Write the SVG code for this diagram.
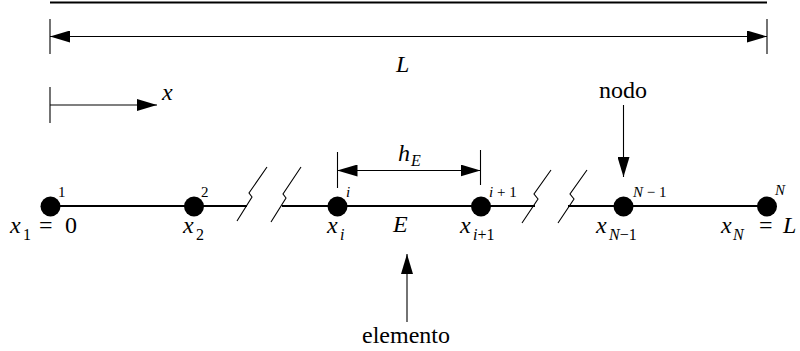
<svg xmlns="http://www.w3.org/2000/svg" width="800" height="351" viewBox="0 0 800 351">
<style>
.thin{stroke:#000;stroke-width:1.1;fill:none}
.thick{stroke:#000;stroke-width:2;fill:none}
.node{fill:#000}
</style>
<defs>
<marker id="ah" markerUnits="userSpaceOnUse" markerWidth="20" markerHeight="12" refX="20" refY="6" orient="auto-start-reverse" viewBox="0 0 20 12">
<path d="M0,0 L20,6 L0,12 z" fill="#000"/>
</marker>
</defs>
<g id="connectors">
<line class="thick" x1="50" y1="2.5" x2="767" y2="2.5"/>
<line class="thick" x1="50" y1="206" x2="247" y2="206"/>
<line class="thick" x1="282" y1="206" x2="535" y2="206"/>
<line class="thick" x1="568" y1="206" x2="767" y2="206"/>
<line class="thin" x1="50" y1="19" x2="50" y2="54"/>
<line class="thin" x1="767" y1="19" x2="767" y2="54"/>
<line class="thin" x1="50" y1="36.5" x2="767" y2="36.5" marker-start="url(#ah)" marker-end="url(#ah)"/>
<line class="thin" x1="50" y1="87" x2="50" y2="123"/>
<line class="thin" x1="50" y1="105" x2="157" y2="105" marker-end="url(#ah)"/>
<polyline class="thin" points="237,221 252,197 249,193 267,167"/>
<polyline class="thin" points="271,222 286,198 283,194 301,167"/>
<polyline class="thin" points="522,223 538,199 534,194 551,170"/>
<polyline class="thin" points="558,223 574,199 570,194 587,170"/>
<line class="thin" x1="337.5" y1="152" x2="337.5" y2="188"/>
<line class="thin" x1="480.5" y1="150" x2="480.5" y2="185"/>
<line class="thin" x1="337.5" y1="170.5" x2="480.5" y2="170.5" marker-start="url(#ah)" marker-end="url(#ah)"/>
<line class="thin" x1="623.5" y1="105" x2="623.5" y2="177" marker-end="url(#ah)"/>
<line class="thin" x1="407" y1="322" x2="407" y2="254" marker-end="url(#ah)"/>
</g>
<g id="labels">
<text font-family="Liberation Serif" font-size="24" font-style="italic" x="396" y="72">L</text>
<text font-family="Liberation Serif" font-size="24" font-style="italic" x="162" y="100">x</text>
<text font-family="Liberation Serif" font-size="24" font-style="italic" x="398" y="161">h<tspan font-size="16" x="411" y="166">E</tspan></text>
<text font-family="Liberation Serif" font-size="24" x="599" y="98">nodo</text>
<text font-family="Liberation Serif" font-size="24" x="362" y="343">elemento</text>
<text font-family="Liberation Serif" font-size="24" font-style="italic" x="393" y="232">E</text>
</g>
<g id="node1">
<circle class="node" cx="50.5" cy="206.5" r="10"/>
<text font-family="Liberation Serif" font-size="15" x="58" y="197">1</text>
<text font-family="Liberation Serif" font-size="24" font-style="italic" x="10" y="233">x<tspan font-size="16" font-style="normal" x="23" y="240">1</tspan><tspan font-style="normal" x="39" y="233">=</tspan><tspan font-style="normal" x="65" y="233">0</tspan></text>
</g>
<g id="node2">
<circle class="node" cx="194" cy="206.5" r="10"/>
<text font-family="Liberation Serif" font-size="15" x="201" y="197">2</text>
<text font-family="Liberation Serif" font-size="24" font-style="italic" x="183" y="233">x<tspan font-size="16" font-style="normal" x="196" y="240">2</tspan></text>
</g>
<g id="node-i">
<circle class="node" cx="337.5" cy="206.5" r="10"/>
<text font-family="Liberation Serif" font-size="15" font-style="italic" x="346" y="197">i</text>
<text font-family="Liberation Serif" font-size="24" font-style="italic" x="327" y="233">x<tspan font-size="16" x="340" y="240">i</tspan></text>
</g>
<g id="node-i1">
<circle class="node" cx="481" cy="206.5" r="10"/>
<text font-family="Liberation Serif" font-size="15" x="489" y="197"><tspan font-style="italic">i</tspan> + 1</text>
<text font-family="Liberation Serif" font-size="24" font-style="italic" x="460" y="233">x<tspan font-size="16" x="473" y="240">i</tspan><tspan font-size="16" font-style="normal" y="240">+1</tspan></text>
</g>
<g id="node-N1">
<circle class="node" cx="623.5" cy="206.5" r="10"/>
<text font-family="Liberation Serif" font-size="15" x="633" y="197"><tspan font-style="italic">N</tspan> &#8722; 1</text>
<text font-family="Liberation Serif" font-size="24" font-style="italic" x="596" y="233">x<tspan font-size="16" x="609" y="240">N</tspan><tspan font-size="16" font-style="normal" y="240">&#8722;1</tspan></text>
</g>
<g id="node-N">
<circle class="node" cx="767" cy="206.5" r="10"/>
<text font-family="Liberation Serif" font-size="15" font-style="italic" x="775" y="195">N</text>
<text font-family="Liberation Serif" font-size="24" font-style="italic" x="721" y="233">x<tspan font-size="16" x="733" y="240">N</tspan><tspan font-style="normal" x="759" y="233">=</tspan><tspan x="783" y="233">L</tspan></text>
</g>
</svg>
